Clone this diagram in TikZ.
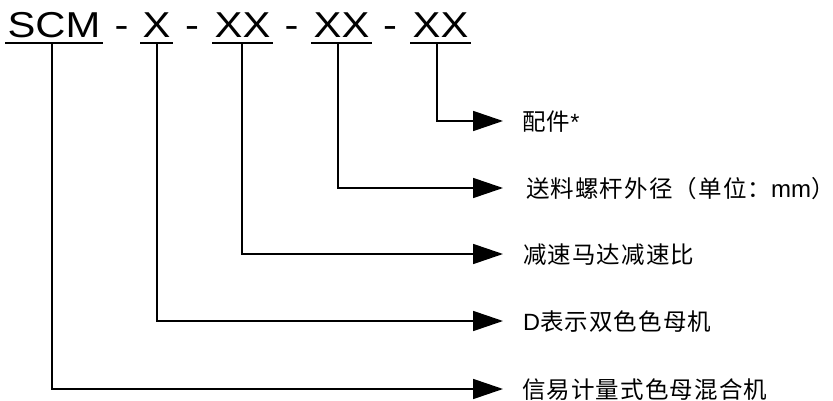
\documentclass[tikz,border=0pt]{standalone}
\usepackage{fontspec}
\setmainfont{Liberation Sans}
\newfontfamily\codefont[FakeStretch=1.16]{Liberation Sans}
\newfontfamily\cjk[LetterSpace=4.7]{Noto Sans CJK SC}
\newfontfamily\lat{Liberation Sans}
\usetikzlibrary{arrows.meta}
\begin{document}
\begin{tikzpicture}[x=1pt,y=-1pt,
  code/.style={inner sep=0pt, anchor=base, font=\codefont\fontsize{36}{36}\selectfont},
  grp/.style={code, inner xsep=2pt},
  uline/.style={line width=1.8pt},
  conn/.style={line width=1.7pt, -{Triangle[length=30pt,width=20pt]}},
  lab/.style={anchor=west, inner sep=0pt, font=\cjk\fontsize{23.5}{24}\selectfont}]
\useasboundingbox (0,0) rectangle (833,401);
% code groups
\node[grp]  (g1) at (54,38)    {SCM};
\node[code] (d1) at (121.5,38) {-};
\node[grp]  (g2) at (156.5,38) {X};
\node[code] (d2) at (192,38)   {-};
\node[grp]  (g3) at (242.5,38) {XX};
\node[code] (d3) at (291.5,38) {-};
\node[grp]  (g4) at (341.5,38) {XX};
\node[code] (d4) at (390,38)   {-};
\node[grp]  (g5) at (440.5,38) {XX};
\foreach \g in {g1,g2,g3,g4,g5}
  \draw[uline] ([yshift=-5pt]\g.base west) -- ([yshift=-5pt]\g.base east);
% labels
\node[lab] (l1) at (522,122) {配件{\lat *}};
\node[lab] (l2) at (526,189) {送料螺杆外径（单位：{\lat\fontsize{24}{24}\selectfont mm}）};
\node[lab] (l3) at (523,255) {减速马达减速比};
\node[lab] (l4) at (523,322) {{\lat\fontsize{23.5}{24}\selectfont D}表示双色色母机};
\node[lab] (l5) at (522,390) {信易计量式色母混合机};
% connectors
\draw[conn] ([xshift=-3.5pt,yshift=-5pt]g5.base) |- ([xshift=-19pt,yshift=1pt]l1.west);
\draw[conn] ([xshift=-3.5pt,yshift=-5pt]g4.base) |- ([xshift=-23pt,yshift=1pt]l2.west);
\draw[conn] ([xshift=-0.5pt,yshift=-5pt]g3.base) |- ([xshift=-20pt,yshift=1pt]l3.west);
\draw[conn] ([xshift=0.5pt,yshift=-5pt]g2.base)  |- ([xshift=-20pt,yshift=1pt]l4.west);
\draw[conn] ([xshift=-2pt,yshift=-5pt]g1.base)   |- ([xshift=-19pt,yshift=1pt]l5.west);
\end{tikzpicture}
\end{document}
